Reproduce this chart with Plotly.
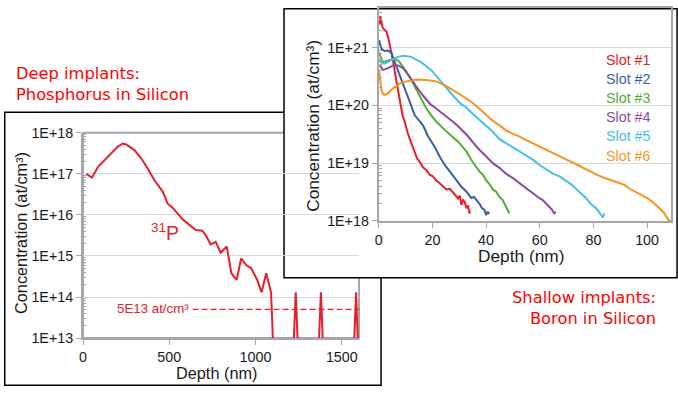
import plotly.graph_objects as go

W, H = 678, 394

# ---------------- data: deep implant (31P in Si) ----------------
p_depth_nm = [19, 52, 87, 144, 202, 231, 250, 298, 337, 375, 413, 462, 490, 519, 548, 577,
              615, 654, 692, 712, 740, 769, 798, 833, 860, 890, 917, 946, 975, 1010, 1035,
              1062, 1090, 1106, 1110, 1213, 1233, 1253, 1359, 1379, 1399, 1563, 1583, 1600]
p_conc = [1.0e17, 8.1e16, 1.48e17, 2.6e17, 4.6e17, 5.5e17, 5.2e17, 3.8e17, 2.4e17, 1.35e17,
          7.1e16, 3.7e16, 1.9e16, 1.5e16, 1.1e16, 7.8e15, 5.8e15, 4.3e15, 4.1e15, 3.2e15,
          1.9e15, 2.2e15, 1.2e15, 1.7e15, 3.8e14, 2.6e14, 8.7e14, 6.0e14, 5.0e14, 2.6e14,
          1.3e14, 3.8e14, 1.3e14, 1.0e13, 1e12, 1e12, 1.3e14, 1e12, 1e12, 1.3e14, 1e12,
          1e12, 1.3e14, 1e12]
threshold_conc = 5e13
threshold_depth = [635, 1600]

left_xtick_vals = [0, 500, 1000, 1500]
left_ytick_vals = [1e13, 1e14, 1e15, 1e16, 1e17, 1e18]
left_ytick_text = ["1E+13", "1E+14", "1E+15", "1E+16", "1E+17", "1E+18"]

# ---------------- data: shallow implants (B in Si) ----------------
slot_names = ["Slot #1", "Slot #2", "Slot #3", "Slot #4", "Slot #5", "Slot #6"]
slot_colors = ["#e5202a", "#3b5ea8", "#55ab3a", "#8c4a9c", "#45c0ec", "#f7941d"]

slot1_depth = [0.3, 0.6, 1.0, 1.5, 2.2, 2.8, 3.5, 4.3, 5.3, 6.5, 7.7, 8.9, 9.7, 10.9, 12.2, 13.4,
               14.3, 15.3, 16.5, 17.7, 19.0, 20.2, 21.4, 22.7, 24.0, 25.2, 26.5, 27.7, 28.6,
               29.6, 30.2, 30.8, 31.4, 32.0, 32.7, 33.3, 33.8, 34.1]
slot1_conc = [2.5e21, 3.5e21, 2.8e21, 2.2e21, 2.0e21, 1.9e21, 1.5e21, 1.0e21, 6.0e20, 2.75e20,
              1.23e20, 6.6e19, 5.2e19, 3.2e19, 2.2e19, 1.5e19, 1.2e19, 1.05e19, 8.5e18, 7.6e18,
              6.3e18, 5.9e18, 5.0e18, 4.5e18, 4.0e18, 3.5e18, 3.6e18, 3.1e18, 2.8e18, 2.45e18,
              2.75e18, 1.9e18, 2.3e18, 2.15e18, 1.66e18, 1.86e18, 1.35e18, 1.48e18]

slot2_depth = [0.1, 0.5, 1.0, 2.2, 3.5, 4.7, 6.0, 7.8, 9.7, 11.6, 13.4, 14.6, 16.5, 18.4, 20.9,
               22.7, 24.6, 27.1, 28.9, 30.8, 32.7, 34.5, 35.5, 37.5, 38.5, 39.4, 40.0, 40.6, 41.2]
slot2_conc = [1.35e21, 1.12e21, 9.5e20, 8.7e20, 8.9e20, 8.1e20, 5.6e20, 3.1e20, 1.82e20, 1.07e20,
              6.8e19, 5.75e19, 4.5e19, 2.9e19, 1.9e19, 1.3e19, 9.3e18, 6.6e18, 5.1e18, 3.9e18,
              3.2e18, 2.5e18, 2.6e18, 2.0e18, 1.66e18, 1.55e18, 1.26e18, 1.45e18, 1.32e18]

slot3_depth = [0.2, 0.8, 1.6, 3.5, 6.0, 7.8, 10.3, 12.8, 15.3, 17.7, 19.5, 21.5, 24.5, 26.5, 28.5,
               30.2, 32.7, 34.9, 36.2, 37.5, 38.8, 40.0, 41.2, 42.5, 43.8, 45.0, 46.2, 47.4,
               48.0, 48.7]
slot3_conc = [8.3e20, 6.6e20, 5.6e20, 5.9e20, 6.5e20, 5.6e20, 3.8e20, 2.4e20, 1.41e20, 8.9e19,
              6.8e19, 5.2e19, 3.8e19, 3.2e19, 2.6e19, 2.2e19, 1.58e19, 1.07e19, 8.9e18, 7.2e18,
              6.3e18, 5.1e18, 4.4e18, 3.5e18, 3.2e18, 2.6e18, 2.3e18, 1.82e18, 1.58e18, 1.35e18]

slot4_depth = [0.4, 1.6, 3.5, 5.3, 7.2, 9.1, 11.6, 14.0, 16.5, 19.0, 21.0, 23.3, 25.5, 27.7, 29.5,
               31.4, 33.2, 35.1, 37.5, 40.0, 42.5, 45.0, 47.4, 50.0, 52.4, 55.0, 57.4, 59.3,
               61.1, 62.4, 63.6, 64.5, 65.4, 66.0]
slot4_conc = [4.9e20, 4.1e20, 4.4e20, 4.9e20, 4.9e20, 4.4e20, 3.1e20, 2.1e20, 1.48e20, 1.07e20,
              9.1e19, 7.6e19, 6.3e19, 5.2e19, 4.4e19, 3.6e19, 2.95e19, 2.3e19, 1.7e19, 1.32e19,
              1.0e19, 8.3e18, 6.6e18, 5.5e18, 4.5e18, 3.6e18, 3.0e18, 2.6e18, 2.3e18, 2.0e18,
              1.78e18, 1.58e18, 1.35e18, 1.45e18]

slot5_depth = [0.1, 0.4, 1.2, 2.1, 3.3, 4.6, 7.1, 9.5, 12.0, 15.8, 19.5, 23.2, 26.9, 30.7, 32.5,
               34.4, 36.3, 38.1, 40.0, 42.5, 45.0, 47.5, 49.9, 52.4, 54.9, 57.4, 59.9, 62.4,
               64.9, 67.4, 69.8, 71.7, 73.5, 75.4, 77.2, 79.1, 80.3, 81.6, 82.5, 83.5, 84.1]
slot5_conc = [6.3e20, 5.75e20, 5.4e20, 5.25e20, 5.6e20, 6.0e20, 6.9e20, 7.2e20, 6.9e20, 5.6e20,
              4.1e20, 2.6e20, 1.62e20, 1.05e20, 9.3e19, 7.6e19, 6.3e19, 5.2e19, 4.4e19, 3.5e19,
              2.6e19, 2.2e19, 1.9e19, 1.62e19, 1.38e19, 1.15e19, 9.3e18, 7.9e18, 6.6e18, 5.9e18,
              5.0e18, 4.3e18, 3.6e18, 3.0e18, 2.5e18, 1.95e18, 1.78e18, 1.55e18, 1.32e18,
              1.15e18, 1.35e18]

slot6_depth = [0.1, 0.5, 1.0, 1.6, 2.2, 3.5, 5.3, 7.8, 10.3, 14.0, 17.7, 21.5, 25.2, 28.9, 32.7,
               35.1, 37.5, 40.0, 42.5, 45.0, 47.4, 50.0, 52.4, 55.0, 57.4, 60.0, 62.4, 65.0,
               67.3, 70.0, 72.3, 74.5, 76.6, 79.0, 81.6, 84.0, 86.6, 89.0, 91.5, 94.0, 96.5,
               98.5, 100.3, 102.2, 104.0, 105.3, 106.5, 107.7, 108.9]
slot6_conc = [4.2e20, 2.5e20, 1.82e20, 1.58e20, 1.51e20, 1.62e20, 1.95e20, 2.4e20, 2.6e20, 2.8e20,
              2.75e20, 2.6e20, 2.15e20, 1.7e20, 1.32e20, 1.1e20, 8.7e19, 6.8e19, 5.4e19, 4.5e19,
              3.7e19, 3.2e19, 2.9e19, 2.5e19, 2.2e19, 1.9e19, 1.7e19, 1.48e19, 1.29e19, 1.12e19,
              1.02e19, 9.1e18, 8.1e18, 7.1e18, 6.2e18, 5.6e18, 5.1e18, 4.7e18, 4.2e18, 3.5e18,
              3.0e18, 2.7e18, 2.45e18, 2.1e18, 1.78e18, 1.55e18, 1.35e18, 1.07e18, 9.8e17]

right_xtick_vals = [0, 20, 40, 60, 80, 100]
right_ytick_vals = [1e18, 1e19, 1e20, 1e21]
right_ytick_text = ["1E+18", "1E+19", "1E+20", "1E+21"]

slot_depths = [slot1_depth, slot2_depth, slot3_depth, slot4_depth, slot5_depth, slot6_depth]
slot_concs = [slot1_conc, slot2_conc, slot3_conc, slot4_conc, slot5_conc, slot6_conc]

# ---------------- geometry helpers ----------------
# target picture pixel -> figure pixel (measured capture transform)
AX, BX = 0.994, 3.0
AY = H / (H + 16.0)
BY = 8 * AY

def lx(X):
    return (X - BX) / AX

def ly(Y):
    return (Y - BY) / AY

def clampx(v):
    return min(max(v, 0.75), W - 0.75)

def clampy(v):
    return min(max(v, 0.75), H - 0.75)

def fs(s):
    return round(s / 0.98, 1)

FONT = "Liberation Sans, Arial, sans-serif"
AX_GREY = "#a6a6a6"
GRID = "#d9d9d9"
TXT = "#1a1a1a"
RED = "#e5202a"

# left plot area (figure px)
L_x0, L_x1 = lx(82), lx(358)
L_yt, L_yb = ly(132.7), ly(338.3)
# right plot area (figure px), clipped to the figure
R_x0 = lx(377.7)
R_x1 = min(lx(670), W - 0.5)
R_yt = 0.0
R_yb = ly(221)
r_px_per_nm = (lx(646) - R_x0) / 100.0
r_xmax = (R_x1 - R_x0) / r_px_per_nm
r_px_per_dec = (ly(221) - ly(47.3)) / 3.0
r_ymax = 18 + (R_yb - R_yt) / r_px_per_dec

def minor_vals(lo, hi):
    return [k * 10.0 ** e for e in range(lo, hi) for k in range(2, 10)]

fig = go.Figure()

# left chart
fig.add_trace(go.Scatter(x=p_depth_nm, y=p_conc, mode="lines",
                         line=dict(color=RED, width=2), xaxis="x", yaxis="y",
                         showlegend=False))
fig.add_trace(go.Scatter(x=threshold_depth, y=[threshold_conc] * 2, mode="lines",
                         line=dict(color=RED, width=1.3, dash="6px,3px"),
                         xaxis="x", yaxis="y", showlegend=False))

# right chart
for name, col, d, c in zip(slot_names, slot_colors, slot_depths, slot_concs):
    fig.add_trace(go.Scatter(x=d, y=c, mode="lines", name=name,
                             line=dict(color=col, width=2), xaxis="x2", yaxis="y2",
                             showlegend=False))

axis_common = dict(showline=True, linecolor=AX_GREY, linewidth=2,
                   ticks="outside", tickcolor=AX_GREY, ticklen=5, tickwidth=1,
                   zeroline=False, tickfont=dict(family=FONT, size=fs(14), color=TXT))

fig.update_layout(
    width=W, height=H,
    margin=dict(l=0, r=0, t=0, b=0),
    paper_bgcolor="white", plot_bgcolor="white",
    showlegend=False,
    xaxis=dict(domain=[L_x0 / W, L_x1 / W], range=[0, 1600], tickvals=left_xtick_vals,
               showgrid=False, anchor="y", mirror=False, **axis_common),
    yaxis=dict(domain=[1 - L_yb / H, 1 - L_yt / H], type="log", range=[13, 18],
               tickvals=left_ytick_vals, ticktext=left_ytick_text,
               showgrid=True, gridcolor=GRID, gridwidth=1, anchor="x", mirror=False,
               minor=dict(tickmode="array", tickvals=minor_vals(13, 18), ticks="inside",
                          ticklen=3, tickcolor=AX_GREY, showgrid=False),
               **axis_common),
    xaxis2=dict(domain=[R_x0 / W, R_x1 / W], range=[0, r_xmax], tickvals=right_xtick_vals,
                showgrid=False, anchor="y2", mirror=True, **axis_common),
    yaxis2=dict(domain=[1 - R_yb / H, 1 - R_yt / H], type="log", range=[18, r_ymax],
                tickvals=right_ytick_vals, ticktext=right_ytick_text,
                showgrid=True, gridcolor=GRID, gridwidth=1, anchor="x2", mirror=True,
                minor=dict(tickmode="array", tickvals=minor_vals(18, 22), ticks="inside",
                           ticklen=3, tickcolor=AX_GREY, showgrid=False),
                **axis_common),
)

# frames
fig.add_shape(type="rect", xref="paper", yref="paper",
              x0=clampx(lx(1)) / W, x1=clampx(lx(380)) / W,
              y0=1 - clampy(ly(393)) / H, y1=1 - clampy(ly(112)) / H,
              line=dict(color="black", width=1.5), fillcolor="rgba(0,0,0,0)", layer="below")
fig.add_shape(type="rect", xref="x domain", yref="y domain", x0=0, x1=1, y0=0, y1=1,
              line=dict(color=AX_GREY, width=2), fillcolor="rgba(0,0,0,0)", layer="below")

def xd2(v):
    return (v - R_x0) / (R_x1 - R_x0)

def yd2(v):
    return (R_yb - v) / (R_yb - R_yt)

fig.add_shape(type="rect", xref="x2 domain", yref="y2 domain",
              x0=xd2(clampx(lx(283))), x1=xd2(clampx(lx(676))),
              y0=yd2(clampy(ly(278))), y1=yd2(clampy(ly(2))),
              line=dict(color="black", width=1.5), fillcolor="white", layer="below")

def P(X, Y):
    return dict(x=lx(X) / W, y=1 - ly(Y) / H)

ann = []
ann.append(dict(text="Concentration (at/cm³)", textangle=-90,
                font=dict(family=FONT, size=fs(16), color=TXT), **P(20, 233)))
ann.append(dict(text="Depth (nm)", font=dict(family=FONT, size=fs(16), color=TXT),
                **P(215.5, 373)))
ann.append(dict(text="Concentration (at/cm³)", textangle=-90,
                font=dict(family=FONT, size=fs(17), color=TXT), **P(311.7, 126)))
ann.append(dict(text="Depth (nm)", font=dict(family=FONT, size=fs(17), color=TXT),
                **P(519.7, 256.5)))
ann.append(dict(text="<sup>31</sup>P", xanchor="left",
                font=dict(family=FONT, size=fs(19), color=RED), **P(148, 232)))
ann.append(dict(text="5E13 at/cm³", xanchor="right",
                font=dict(family=FONT, size=fs(13), color=RED), **P(190, 309)))
for i, (name, col) in enumerate(zip(slot_names, slot_colors)):
    ann.append(dict(text=name, xanchor="left",
                    font=dict(family=FONT, size=fs(14), color=col), **P(603, 60 + 19.1 * i)))
DESC_FONT = dict(family="DejaVu Sans, Verdana, sans-serif", size=fs(16), color="#ff0000")
ann.append(dict(text="Deep implants:<br>Phosphorus in Silicon", xanchor="left", align="left",
                font=DESC_FONT, **P(13, 84)))
ann.append(dict(text="Shallow implants:<br>Boron in Silicon", xanchor="right", align="right",
                font=DESC_FONT, **P(657, 308)))

for a in ann:
    a.setdefault("xref", "paper")
    a.setdefault("yref", "paper")
    a.setdefault("showarrow", False)
    a.setdefault("xanchor", "center")
    a.setdefault("yanchor", "middle")
fig.update_layout(annotations=ann)

fig.write_html("out.html", config={"displayModeBar": False},
               post_script="document.body.style.margin='0';")
